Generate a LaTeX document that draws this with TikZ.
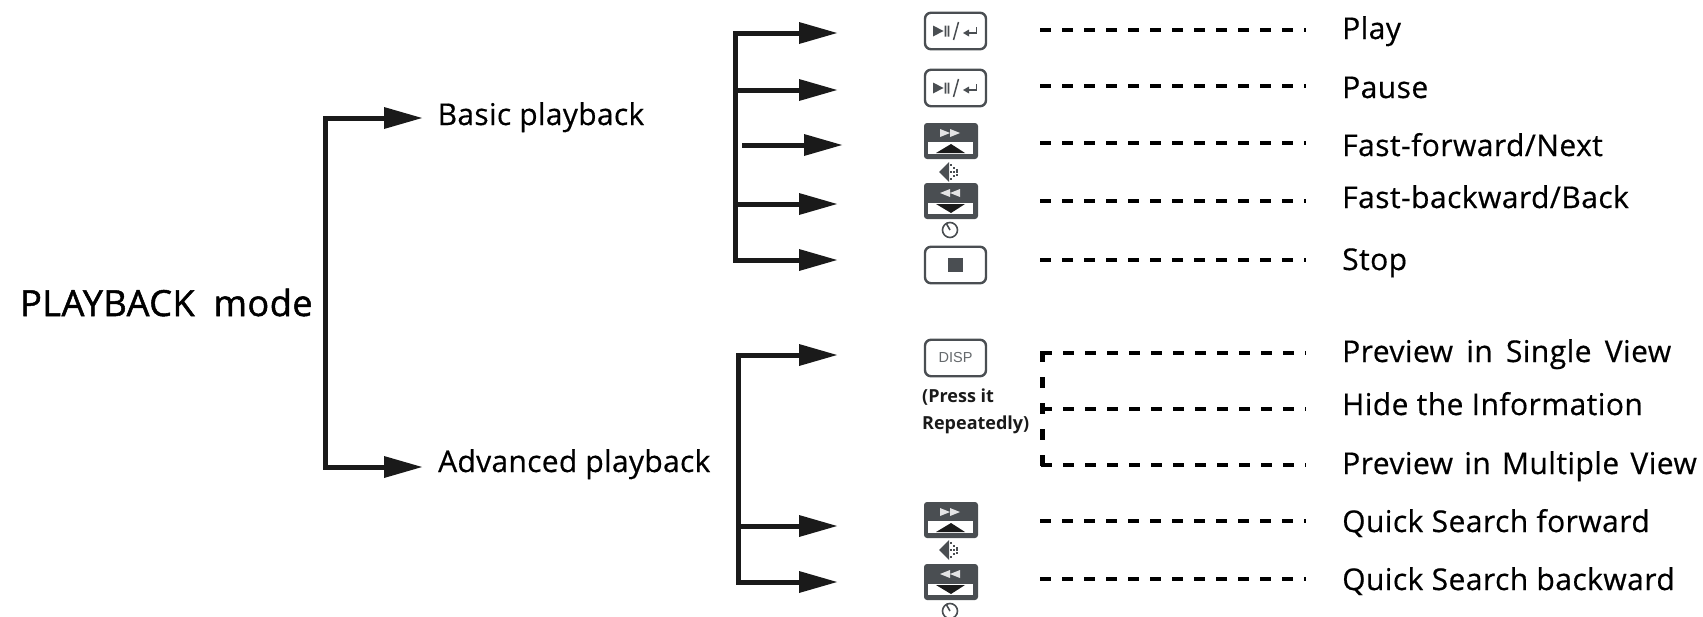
\documentclass[tikz,border=0pt]{standalone}
\usepackage{fontspec}
\setmainfont{Open Sans}
\newfontfamily\labfont[LetterSpace=1.5,FakeBold=0.5]{Open Sans}
\newfontfamily\leftfont[LetterSpace=1,FakeBold=0.5]{Open Sans}
\newfontfamily\modefont[LetterSpace=1.5,FakeBold=1.4]{Open Sans}
\newfontfamily\dispfont{Liberation Sans}
\usetikzlibrary{arrows.meta}
\definecolor{ink}{HTML}{1A1A1A}
\definecolor{btn}{HTML}{4A4E52}
\tikzset{
 treeline/.style={draw=ink,line width=5pt,line join=miter},
 treearrow/.style={treeline,-{Triangle[length=38pt,width=22pt,line width=0pt]}},
 dashline/.style={draw=black,line width=4.5pt,dash pattern=on 10.7pt off 11.3pt},
 vdashline/.style={draw=black,line width=4.5pt,dash pattern=on 11pt off 15pt},
 lab/.style={anchor=base west,inner sep=0pt,font=\labfont\fontsize{30}{32}\selectfont,text=black},
 leftlab/.style={lab,font=\leftfont\fontsize{30}{32}\selectfont},
 roundbtn/.style={draw=btn,line width=2.4pt,fill=white,rounded corners=6pt,minimum width=61pt,minimum height=36.5pt,inner sep=0pt},
 darkbtn/.style={fill=btn,rounded corners=3pt,minimum width=54pt,minimum height=36pt,inner sep=0pt},
 presslab/.style={anchor=base west,inner sep=0pt,font=\bfseries\fontsize{18}{20}\selectfont,text=ink},
}
\newcommand{\fwdbtn}[2]{
 \node[darkbtn] (#1) at (951,#2) {};
 \fill[white] (928,#2+1) rectangle (973,#2+13);
 \fill[white!85!btn] (940,#2-12) -- (950,#2-8) -- (940,#2-4) -- cycle (950,#2-12) -- (960,#2-8) -- (950,#2-4) -- cycle;
 \fill[ink] (936,#2+12) -- (951,#2+3) -- (965,#2+12) -- cycle;
}
\newcommand{\backbtn}[2]{
 \node[darkbtn] (#1) at (951,#2) {};
 \fill[white] (928,#2+2) rectangle (973,#2+13);
 \fill[white!85!btn] (960,#2-12) -- (950,#2-8) -- (960,#2-4) -- cycle (950,#2-12) -- (940,#2-8) -- (950,#2-4) -- cycle;
 \fill[ink] (936,#2+3) -- (965,#2+3) -- (951,#2+12) -- cycle;
}
\newcommand{\playglyphs}[1]{
 \fill[btn] (933,#1-5.5) -- (943.5,#1) -- (933,#1+5.5) -- cycle;
 \fill[btn] (944.5,#1-5.5) rectangle (946.3,#1+5.5) (947.5,#1-5.5) rectangle (949.3,#1+5.5);
 \draw[btn,line width=1.5pt] (953.5,#1+9) -- (958.5,#1-9);
 \draw[btn,line width=1.5pt] (976.5,#1-4) -- (976.5,#1+2) -- (966,#1+2);
 \fill[btn] (963,#1+2) -- (969,#1-1.5) -- (969,#1+5.5) -- cycle;
}
\newcommand{\dotmark}[1]{
 \fill[btn] (939,#1) -- (949,#1-10) -- (949,#1+10) -- cycle;
 \foreach \dx/\dh in {950.5/7,953.5/4,956.5/2.5}{\foreach \dy in {-1,0,1}{\fill[btn] (\dx-1,#1+\dy*\dh-1) rectangle (\dx+1,#1+\dy*\dh+1);}}
}
\newcommand{\clockmark}[1]{
 \draw[btn,line width=1.6pt] (950,#1) circle (7.5pt);
 \draw[btn,line width=1.6pt] (950,#1) -- (946,#1-7);
}
\begin{document}
\begin{tikzpicture}[x=1pt,y=-1pt]
\useasboundingbox (0,0) rectangle (1703,616);
% texts
\node[lab,font=\modefont\fontsize{36}{38}\selectfont] (mode) at (20,316) {PLAYBACK\hspace{9pt} mode};
\node[leftlab] (basic) at (437.5,125) {Basic playback};
\node[leftlab] (adv) at (438,472) {Advanced playback};
\node[lab] (l1) at (1342,39) {Play};
\node[lab] (l2) at (1342,98) {Pause};
\node[lab] (l3) at (1342,156) {Fast-forward/Next};
\node[lab] (l4) at (1342,208) {Fast-backward/Back};
\node[lab] (l5) at (1342,270) {Stop};
\node[lab] (l6) at (1342,362) {Preview\hspace{5pt} in\hspace{5pt} Single\hspace{5pt} View};
\node[lab] (l7) at (1342,415) {Hide the Information};
\node[lab] (l8) at (1342,474) {Preview\hspace{3pt} in\hspace{3pt} Multiple\hspace{3pt} View};
\node[lab] (l9) at (1342,532) {Quick Search forward};
\node[lab] (l10) at (1342,590) {Quick Search backward};
% main bracket
\coordinate (mt) at (325.5,118); \coordinate (mb) at (325.5,467);
\coordinate (ma1) at (422,118); \coordinate (ma2) at (422,467);
\draw[treearrow] (mt) -- (ma1);
\draw[treearrow] (mb) -- (ma2);
\draw[treeline,line cap=rect] (mt) -- (mb);
% basic bracket
\coordinate (bt) at (735,33); \coordinate (bb) at (735,260);
\coordinate (bj2) at (735,90); \coordinate (bj4) at (735,204);
\coordinate (b1) at (837,33); \coordinate (b2) at (837,90); \coordinate (b3s) at (742,145); \coordinate (b3) at (842,145); \coordinate (b4) at (837,204); \coordinate (b5) at (837,260);
\draw[treeline,line cap=rect] (bt) -- (bb);
\draw[treearrow] (bt) -- (b1);
\draw[treearrow] (bj2) -- (b2);
\draw[treearrow] (b3s) -- (b3);
\draw[treearrow] (bj4) -- (b4);
\draw[treearrow] (bb) -- (b5);
% advanced bracket
\coordinate (at) at (738.5,355); \coordinate (ab) at (738.5,582); \coordinate (aj) at (738.5,526);
\coordinate (a1) at (837,355); \coordinate (a2) at (837,526); \coordinate (a3) at (837,582);
\draw[treeline,line cap=rect] (at) -- (ab);
\draw[treearrow] (at) -- (a1);
\draw[treearrow] (aj) -- (a2);
\draw[treearrow] (ab) -- (a3);
% buttons
\node[roundbtn] (p1) at (955.5,31) {}; \playglyphs{31}
\node[roundbtn] (p2) at (955.5,88) {}; \playglyphs{88}
\fwdbtn{f1}{141}
\dotmark{172}
\backbtn{r1}{201}
\clockmark{230}
\node[roundbtn] (st) at (955.5,265) {};
\fill[btn] (948,258) rectangle (963,272);
\node[roundbtn,text=btn!85!white,font=\dispfont\fontsize{14.5}{15}\selectfont] (disp) at (955.5,358) {DISP};
\node[presslab] (press1) at (922,402) {(Press it};
\node[presslab] (press2) at (922,429) {Repeatedly)};
\fwdbtn{f2}{520}
\dotmark{550}
\backbtn{r2}{582}
\clockmark{611}
% dashes
\foreach \y in {30,86,143,201,260,521,579}{
 \coordinate (ds) at (1040,\y); \coordinate (de) at (1306,\y);
 \draw[dashline] (ds) -- (de);
}
\coordinate (d0) at (1041,353);\coordinate (d1) at (1041,409);\coordinate (d2) at (1041,465);
\coordinate (e0) at (1306,353);\coordinate (e1) at (1306,409);\coordinate (e2) at (1306,465);
\draw[dashline] (d0) -- (e0);
\draw[dashline] (d1) -- (e1);
\draw[dashline] (d2) -- (e2);
\coordinate (vt) at (1042.7,351); \coordinate (vb) at (1042.7,467);
\draw[vdashline] (vt) -- (vb);
\end{tikzpicture}
\end{document}
